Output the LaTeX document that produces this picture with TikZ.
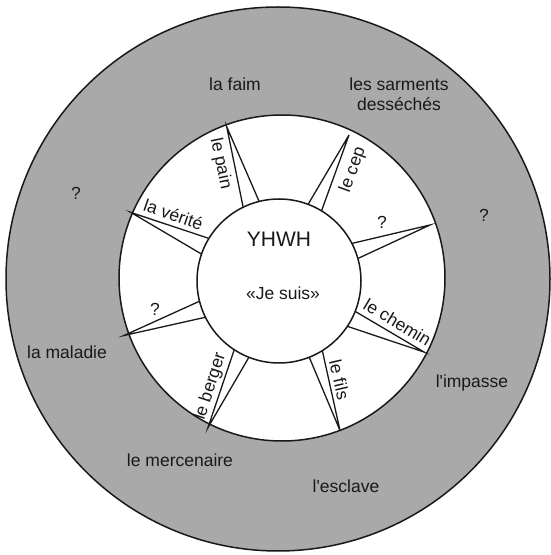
\documentclass[tikz,border=0pt]{standalone}
\usepackage{fontspec}
\setmainfont{Liberation Sans}
\newfontfamily\labfont{Liberation Sans}
\usetikzlibrary{calc}
\definecolor{ringgray}{RGB}{169,169,169}
\definecolor{ink}{RGB}{25,25,25}
\tikzset{
  lab/.style={font=\labfont\fontsize{17.5}{20}\selectfont, text=ink, inner sep=0pt, align=center},
  big/.style={font=\labfont\fontsize{21}{24}\selectfont, text=ink, inner sep=0pt},
  spike/.style={draw=ink, line width=1.3pt, line join=miter},
  ring/.style={draw=ink, line width=1.5pt}
}
\begin{document}
\begin{tikzpicture}[x=1pt,y=1pt]
\useasboundingbox (0,0) rectangle (551,555);
% centres
\coordinate (oc) at (278,276);
\coordinate (wc) at (282,277);
\coordinate (ic) at (279,274);
% outer gray disc and white ring
\draw[ring, fill=ringgray] (oc) circle (272);
\draw[ring, fill=white] (wc) circle (163);
% spike apexes
\coordinate (A1) at (226.7,428.3);
\coordinate (A2) at (349.0,420.0);
\coordinate (A3) at (430.0,330.0);
\coordinate (A4) at (424.0,203.0);
\coordinate (A5) at (340.0,124.5);
\coordinate (A6) at (208.0,127.5);
\coordinate (A7) at (124.0,219.5);
\coordinate (A8) at (131.0,342.5);
% spike base points
\coordinate (B1a) at (242.5,351.0); \coordinate (B1b) at (258.3,355.5);
\coordinate (B2a) at (308.3,351.0); \coordinate (B2b) at (322.2,346.0);
\coordinate (B3a) at (352.5,311.7); \coordinate (B3b) at (358.3,296.7);
\coordinate (B4a) at (354.5,244.0); \coordinate (B4b) at (348.5,228.3);
\coordinate (B5a) at (308.3,200.0); \coordinate (B5b) at (322.2,205.0);
\coordinate (B6a) at (233.3,202.5); \coordinate (B6b) at (248.3,196.7);
\coordinate (B7a) at (196.7,252.5); \coordinate (B7b) at (200.8,236.7);
\coordinate (B8a) at (207.0,317.2); \coordinate (B8b) at (199.7,302.0);
\foreach \i in {1,...,8}{
  \draw[spike] ($(A\i)!1.12!(B\i a)$) -- (A\i) -- ($(A\i)!1.12!(B\i b)$);
}
% inner disc
\draw[ring, fill=white] (ic) circle (82);
% centre texts
\node[big] (yhwh) at (279,316) {YHWH};
\node[lab] (jesuis) at (283,262) {«Je suis»};
% ring labels
\node[lab, rotate=-78] (pain) at (220.5,391.5) {le pain};
\node[lab, rotate=70] (cep) at (353,385) {le cep};
\node[lab] (q1) at (382,333) {?};
\node[lab, rotate=-31] (chemin) at (397.5,232.7) {le chemin};
\node[lab, rotate=-77] (fils) at (339.5,175) {le fils};
\node[lab, rotate=72] (berger) at (210.5,168.5) {le berger};
\node[lab] (q2) at (155,246) {?};
\node[lab, rotate=-19] (verite) at (173.5,340.5) {la vérité};
% outer labels
\node[lab] (faim) at (235,471) {la faim};
\node[lab] (sarments) at (399,461) {les sarments\\desséchés};
\node[lab] (q3) at (76,362) {?};
\node[lab] (q4) at (484,340) {?};
\node[lab] (maladie) at (67,203) {la maladie};
\node[lab] (impasse) at (472,172) {l'impasse};
\node[lab] (mercenaire) at (180,95) {le mercenaire};
\node[lab] (esclave) at (346,69) {l'esclave};
\end{tikzpicture}
\end{document}
